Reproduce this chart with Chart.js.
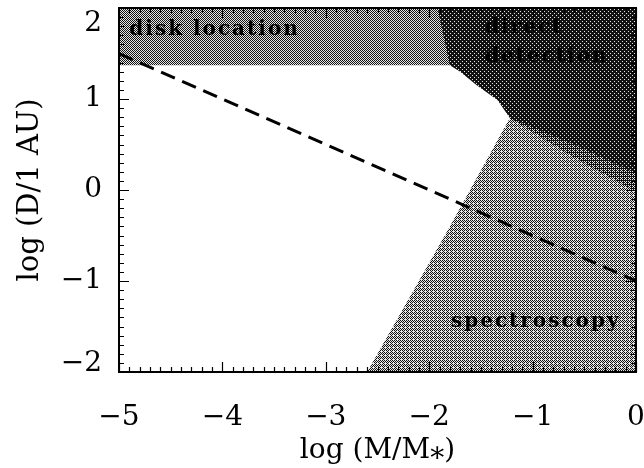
<!DOCTYPE html>
<html>
<head>
<meta charset="utf-8">
<script src="https://cdn.jsdelivr.net/npm/chart.js@4/dist/chart.umd.min.js"></script>
<style>
  html, body { margin: 0; padding: 0; background: #fff; }
  #wrap { width: 644px; height: 468px; }
</style>
</head>
<body>
<div id="wrap"><canvas id="chart" width="644" height="468"></canvas></div>
<script>
// Axis ticks
const xTicks = [-5, -4, -3, -2, -1, 0];
const yTicks = [-2, -1, 0, 1, 2];

// Shaded regions (log M/M*, log D/1AU)
const diskX = [-5, 0];
const diskY = [1.37, 1.37];

const specX = [-2.6, -2.2, -1.8, -1.22, 0];
const specY = [-2, -1.2, -0.4, 0.79, 0.79];

const midX = [-1.22, -0.6, 0];
const midY = [0.79, 0.36, -0.02];

const darkX = [-1.92, -1.80, -1.70, -1.54, -1.34, -1.22, -0.6, 0];
const darkY = [2, 1.37, 1.30, 1.15, 0.99, 0.79, 0.50, 0.18];

// Dashed relation
const dashX = [-5, 0];
const dashY = [1.5, -1];

// Region labels
const noteText = ['disk location', 'direct', 'detection', 'spectroscopy'];
const noteX = [-4.90, -1.46, -1.46, -1.79];
const noteY = [1.76, 1.78, 1.46, -1.45];

function toPoints(xs, ys) {
    return xs.map((x, i) => ({ x: x, y: ys[i] }));
}

function fmt(v) {
    return v < 0 ? '\u2212' + Math.abs(v) : String(v);
}

const canvas = document.getElementById('chart');
const ctx = canvas.getContext('2d');

// Halftone-like fill made from a 4x4 ordered dither
function dither(level) {
    const bayer = [[0, 8, 2, 10], [12, 4, 14, 6], [3, 11, 1, 9], [15, 7, 13, 5]];
    const tile = document.createElement('canvas');
    tile.width = 4;
    tile.height = 4;
    const g = tile.getContext('2d');
    for (let r = 0; r < 4; r++) {
        for (let c = 0; c < 4; c++) {
            g.fillStyle = (bayer[r][c] + 0.5) / 16 < level ? '#121212' : '#e6e6e6';
            g.fillRect(c, r, 1, 1);
        }
    }
    return ctx.createPattern(tile, 'repeat');
}

function region(points, fill, pattern, order) {
    return {
        data: points,
        fill: fill,
        backgroundColor: pattern,
        borderColor: 'rgba(0,0,0,0)',
        borderWidth: 0,
        pointRadius: 0,
        tension: 0,
        order: order
    };
}

// Keep the end labels of the y axis inside the frame, as in the original
const nudgePlugin = {
    id: 'nudge',
    afterUpdate(chart) {
        const s = chart.scales.y;
        if (!s || !s.getLabelItems) return;
        try {
            s.getLabelItems().forEach((item, i) => {
                const v = s.ticks[i] && s.ticks[i].value;
                if (v === 2) item.options.translation[1] += 16;
                if (v === -2) item.options.translation[1] -= 8;
            });
        } catch (e) { /* leave labels where they are */ }
    }
};

// Box, inward ticks and region labels
const framePlugin = {
    id: 'frame',
    afterDatasetsDraw(chart) {
        const { ctx, chartArea: a, scales: { x, y } } = chart;
        ctx.save();
        ctx.strokeStyle = '#000';
        ctx.lineWidth = 1.2;
        ctx.beginPath();
        for (let i = 0; i <= 50; i++) {
            const px = Math.round(x.getPixelForValue(-5 + i * 0.1)) + 0.5;
            const len = i % 10 === 0 ? 10 : 5;
            ctx.moveTo(px, a.bottom); ctx.lineTo(px, a.bottom - len);
            ctx.moveTo(px, a.top); ctx.lineTo(px, a.top + len);
        }
        for (let i = 0; i <= 40; i++) {
            const py = Math.round(y.getPixelForValue(-2 + i * 0.1)) + 0.5;
            const len = i % 10 === 0 ? 10 : 5;
            ctx.moveTo(a.left, py); ctx.lineTo(a.left + len, py);
            ctx.moveTo(a.right, py); ctx.lineTo(a.right - len, py);
        }
        ctx.stroke();
        ctx.lineWidth = 2;
        ctx.strokeRect(a.left, a.top, a.right - a.left, a.bottom - a.top);

        ctx.fillStyle = '#000';
        ctx.font = 'bold 20px "DejaVu Serif", "Liberation Serif", serif';
        if ('letterSpacing' in ctx) ctx.letterSpacing = '2px';
        ctx.textAlign = 'left';
        ctx.textBaseline = 'middle';
        noteText.forEach((t, i) => {
            ctx.fillText(t, x.getPixelForValue(noteX[i]), y.getPixelForValue(noteY[i]));
        });
        ctx.restore();
    }
};

const serif = '"DejaVu Serif", "Liberation Serif", serif';

new Chart(ctx, {
    type: 'line',
    data: {
        datasets: [
            region(toPoints(diskX, diskY), 'end', dither(0.5), 5),
            region(toPoints(specX, specY), 'start', dither(0.45), 4),
            region(toPoints(midX, midY), 'end', dither(0.7), 3),
            region(toPoints(darkX, darkY), 'end', dither(0.88), 2),
            {
                data: toPoints(dashX, dashY),
                fill: false,
                borderColor: '#000',
                borderWidth: 3,
                borderDash: [15, 8],
                pointRadius: 0,
                order: 1
            }
        ]
    },
    options: {
        responsive: false,
        animation: false,
        events: [],
        layout: {
            padding: { top: 8, right: 8, left: 0, bottom: 0 }
        },
        plugins: {
            legend: { display: false },
            tooltip: { enabled: false }
        },
        scales: {
            x: {
                type: 'linear',
                min: -5,
                max: 0,
                afterBuildTicks: function(scale) {
                    scale.ticks = xTicks.map(v => ({ value: v }));
                },
                afterFit: function(scale) {
                    scale.height = 96;
                    scale.paddingLeft = 0;
                    scale.paddingRight = 0;
                },
                grid: { display: false },
                border: { display: false },
                ticks: {
                    autoSkip: false,
                    maxRotation: 0,
                    padding: 21,
                    color: '#000',
                    font: { family: serif, size: 28 },
                    callback: fmt
                },
                title: {
                    display: true,
                    text: 'log (M/M\u204E)',
                    color: '#000',
                    font: { family: serif, size: 28 },
                    padding: { top: 0, bottom: 0 }
                }
            },
            y: {
                type: 'linear',
                min: -2,
                max: 2,
                afterBuildTicks: function(scale) {
                    scale.ticks = yTicks.map(v => ({ value: v }));
                },
                afterFit: function(scale) {
                    scale.width = 119;
                    scale.paddingTop = 0;
                    scale.paddingBottom = 0;
                },
                grid: { display: false },
                border: { display: false },
                ticks: {
                    autoSkip: false,
                    padding: 9,
                    color: '#000',
                    font: { family: serif, size: 28 },
                    callback: fmt
                },
                title: {
                    display: true,
                    text: 'log (D/1 AU)',
                    color: '#000',
                    font: { family: serif, size: 29 },
                    padding: { top: 13, bottom: 0 }
                }
            }
        }
    },
    plugins: [nudgePlugin, framePlugin]
});
</script>
</body>
</html>
